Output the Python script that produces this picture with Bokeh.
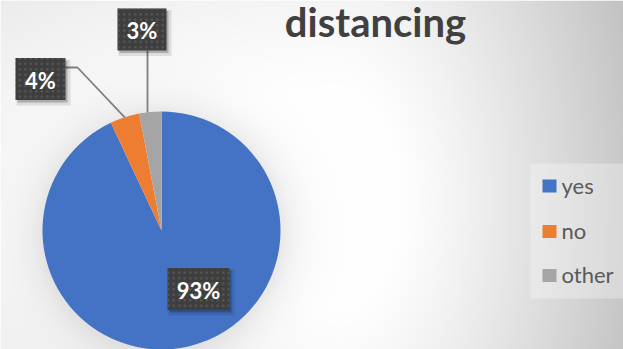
import numpy as np
from bokeh.plotting import figure
from bokeh.models import Range1d
from bokeh.core.properties import value
from bokeh.embed import file_html
from bokeh.resources import INLINE

# ---- data ----
categories = ["yes", "no", "other"]
percentages = [93, 4, 3]
colors = ["#4472C4", "#ED7D31", "#A5A5A5"]
title_text = "distancing"

W, H = 623, 349


def sy(y):
    """screen y (top-down) -> data y (bottom-up)"""
    return H - np.asarray(y, dtype=float)


p = figure(width=W, height=H, x_range=Range1d(0, W), y_range=Range1d(0, H),
           output_backend="svg", toolbar_location=None, min_border=0)
p.axis.visible = False
p.grid.visible = False
p.outline_line_color = None
p.background_fill_color = "white"
p.border_fill_color = "white"

# ---- background gradient with soft pie shadow ----
cx, cy_s, R = 161.0, 230.0, 119.0
yy, xx = np.mgrid[0:H, 0:W].astype(float)
gx, gy = 330.0, 200.0
sx = np.where(xx > gx, 290.0, 900.0)
d = np.sqrt(((xx - gx) / sx) ** 2 + ((yy - gy) / 480.0) ** 2)
v = 255 - 72 * np.clip(d - 0.22, 0, 1) ** 1.2
rr = np.sqrt((xx - cx) ** 2 + (yy - (cy_s + 3)) ** 2)
v -= 22 * np.exp(-np.clip(rr - R, 0, None) / 20.0) * (rr > R - 5)
v = np.clip(v, 0, 255).astype(np.uint8)[::-1]
img = np.empty((H, W), dtype=np.uint32)
view = img.view(dtype=np.uint8).reshape((H, W, 4))
view[..., 0] = v
view[..., 1] = v
view[..., 2] = v
view[..., 3] = 255
p.image_rgba(image=[img], x=0, y=0, dw=W, dh=H)

# ---- pie ----
frac = np.array(percentages, dtype=float) / sum(percentages)
cum = np.concatenate([[0.0], np.cumsum(frac)])
start = np.pi / 2 - 2 * np.pi * cum[:-1]
end = np.pi / 2 - 2 * np.pi * cum[1:]
p.wedge(x=cx, y=float(sy(cy_s)), radius=R, start_angle=list(start), end_angle=list(end),
        direction="clock", fill_color=colors, line_color=None)

# anchors on pie edge at slice mid-angles
mid = np.pi / 2 - 2 * np.pi * (cum[:-1] + cum[1:]) / 2
ax = cx + R * np.cos(mid)
ay = sy(cy_s) + R * np.sin(mid)

# ---- leader lines ----
lc = "#7F7F7F"
p.line(x=[65, 77, ax[1]], y=[float(sy(67)), float(sy(67)), ay[1]], line_color=lc, line_width=1.8)
p.line(x=[147, 147], y=[float(sy(50)), ay[2] - 0.5], line_color=lc, line_width=1.8)

# ---- data label boxes ----
bx = [198.0, 40.0, 141.5]
by_s = [288.5, 78.5, 29.0]
bw = [62, 50, 49]
bh = [42, 42, 42]
by = list(sy(by_s))
labels = [f"{v_}%" for v_ in percentages]
p.rect(x=[b + 3 for b in bx], y=[b - 3.5 for b in by], width=[w + 4 for w in bw], height=[h + 4 for h in bh],
       fill_color="black", fill_alpha=0.10, line_color=None)
p.rect(x=[b + 2 for b in bx], y=[b - 2.5 for b in by], width=bw, height=bh,
       fill_color="black", fill_alpha=0.22, line_color=None)
p.rect(x=bx, y=by, width=bw, height=bh, fill_color="#3E3E3E", line_color=None,
       hatch_pattern=".", hatch_color="#5A5A5A", hatch_scale=5.5, hatch_weight=0.8, hatch_alpha=0.8)
p.text(x=bx, y=[b - 1 for b in by], text=labels, text_font=value("Lato"), text_font_style="bold",
       text_font_size="22px", text_color="white", text_align="center", text_baseline="middle")

# ---- title ----
p.text(x=[375], y=[float(sy(21))], text=[title_text], text_font=value("Lato"), text_font_style="bold",
       text_font_size="40px", text_color="#404040", text_align="center", text_baseline="alphabetic")

# ---- legend ----
p.quad(left=530, right=W + 2, top=float(sy(163)), bottom=float(sy(298)),
       fill_color="white", fill_alpha=0.3, line_color=None)
leg_y_s = np.array([185.5, 231.0, 275.0])
p.rect(x=549, y=list(sy(leg_y_s)), width=14, height=13, fill_color=colors, line_color=None)
p.text(x=561, y=list(sy(leg_y_s - 1)), text=categories, text_font=value("Lato"),
       text_font_size="22px", text_color="#595959", text_align="left", text_baseline="middle")

open("out.html", "w").write(file_html(p, INLINE))
